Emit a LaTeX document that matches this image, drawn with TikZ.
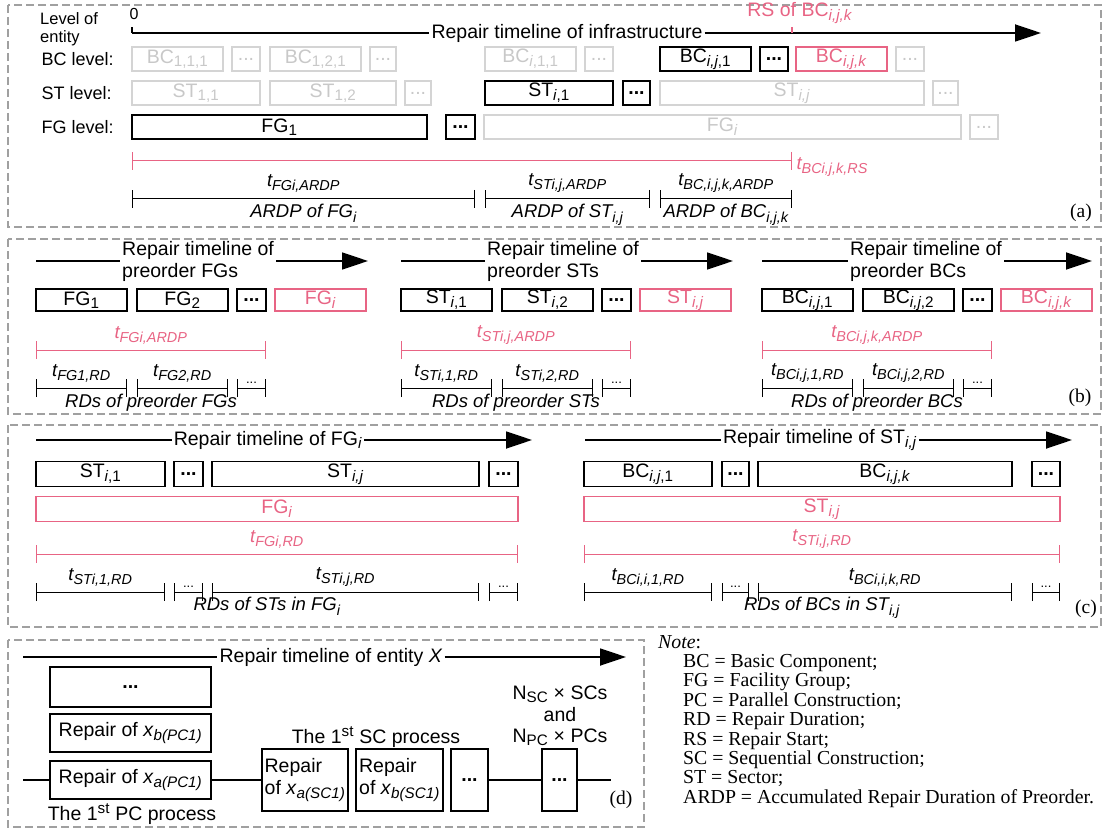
\documentclass[tikz,border=0pt]{standalone}
\usepackage{fontspec}
\setmainfont{Liberation Serif}
\setsansfont{Liberation Sans}
\usetikzlibrary{arrows.meta,positioning,calc}

\definecolor{rspink}{RGB}{232,100,132}
\definecolor{fadeline}{RGB}{212,212,212}
\definecolor{fadetext}{RGB}{200,200,200}
\definecolor{framegray}{RGB}{160,160,160}
\renewcommand{\defaultscriptratio}{.78}
\newcommand{\lsub}[1]{\textsubscript{#1}}

\begin{document}
\begin{tikzpicture}[x=1pt, y=-1pt,
    font=\sffamily\fontsize{19.5}{22}\selectfont,
    panel/.style={draw=framegray, line width=1.2pt, dash pattern=on 8pt off 4pt},
    blk/.style={draw, line width=1.2pt, inner sep=0pt, outer sep=0pt, minimum height=24},
    faded/.style={blk, draw=fadeline, text=fadetext},
    hot/.style={blk, draw=rspink, text=rspink},
    bbox/.style={minimum height=22},
    cbox/.style={minimum height=25},
    timeline/.style={line width=1.8pt},
    tip/.style={-{Triangle[length=26pt,width=17pt]}},
    dim/.style={line width=1pt, {Bar[width=18pt]}-{Bar[width=18pt]}},
    pinkdim/.style={dim, draw=rspink},
    tlab/.style={font=\sffamily\itshape\fontsize{18.5}{20}\selectfont, inner sep=1pt},
    smalldots/.style={above=3pt, font=\sffamily\fontsize{13}{14}\selectfont, inner sep=1pt},
    lvl/.style={anchor=west, font=\sffamily\fontsize{18}{19}\selectfont},
    paneltag/.style={font=\rmfamily\fontsize{19.5}{21}\selectfont}
]
\useasboundingbox (0,0) rectangle (1108,829);

% ---------------- (a) ----------------
\draw[panel] (8,5) rectangle (1101,227);
\node[lvl, align=left, inner sep=0pt, font=\sffamily\fontsize{16.5}{18.5}\selectfont] (lvlof) at (40,29) {Level of\\entity};
\node[lvl] (bclvl) at (38,59) {BC level:};
\node[lvl] (stlvl) at (38,93) {ST level:};
\node[lvl] (fglvl) at (38,127) {FG level:};

\coordinate (a0) at (132,33);
\coordinate (a1) at (1041,33);
\node[font=\sffamily\fontsize{16}{18}\selectfont] (zero) at (134,14) {0};
\node[inner sep=2pt] (atxt) at (567,33) {Repair timeline of infrastructure};
\draw[timeline] (a0) -- (atxt);
\draw[timeline, tip] (atxt) -- (a1);
\draw[line width=1.2pt] (a0) -- ++(0,-6);
\coordinate (rsmark) at (792,33);
\node[text=rspink] (rslab) at (800,13) {RS of BC\lsub{\textit{i,j,k}}};
\draw[rspink, line width=1.2pt] (rsmark) -- ++(0,-6);

% BC level
\node[faded, minimum width=91] (bc111) at (177.5,59) {BC\lsub{1,1,1}};
\node[faded, minimum width=28] (bcd1) at (246,59) {...};
\node[faded, minimum width=91] (bc121) at (315.5,59) {BC\lsub{1,2,1}};
\node[faded, minimum width=26] (bcd2) at (383,59) {...};
\node[faded, minimum width=91] (bci11) at (530.5,59) {BC\lsub{\textit{i},1,1}};
\node[faded, minimum width=28] (bcd3) at (599,59) {...};
\node[blk, minimum width=91] (bcij1) at (705.5,59) {BC\lsub{\textit{i,j},1}};
\node[blk, minimum width=28] (bcd4) at (774,59) {\textbf{...}};
\node[hot, minimum width=91] (bcijk) at (841.5,59) {BC\lsub{\textit{i,j,k}}};
\node[faded, minimum width=28] (bcd5) at (910,59) {...};

% ST level
\node[faded, minimum width=128] (st11) at (196,93) {ST\lsub{1,1}};
\node[faded, minimum width=126] (st12) at (333,93) {ST\lsub{1,2}};
\node[faded, minimum width=26] (std1) at (418,93) {...};
\node[blk, minimum width=128] (sti1) at (549,93) {ST\lsub{\textit{i},1}};
\node[blk, minimum width=27] (std2) at (636.5,93) {\textbf{...}};
\node[faded, minimum width=264] (stij) at (792,93) {ST\lsub{\textit{i,j}}};
\node[faded, minimum width=25] (std3) at (945.5,93) {...};

% FG level
\node[blk, minimum width=295] (fg1) at (279.5,127) {FG\lsub{1}};
\node[blk, minimum width=29] (fgd1) at (460.5,127) {\textbf{...}};
\node[faded, minimum width=477] (fgi) at (722.5,127) {FG\lsub{\textit{i}}};
\node[faded, minimum width=28] (fgd2) at (984,127) {...};

\coordinate (yRS) at (0,161);
\coordinate (yAR) at (0,199);
\draw[pinkdim] (fg1.west |- yRS) -- (rsmark |- yRS)
    node[tlab, text=rspink, anchor=west, xshift=3pt, yshift=-6pt] {t\lsub{BCi,j,k,RS}};
\draw[dim] (fg1.west |- yAR) -- node[tlab, above=5pt] {t\lsub{FGi,ARDP}}
    node[tlab, below=4pt] {ARDP of FG\lsub{i}} (fgd1.east |- yAR);
\draw[dim] (sti1.west |- yAR) -- node[tlab, above=5pt] {t\lsub{STi,j,ARDP}}
    node[tlab, below=4pt] {ARDP of ST\lsub{i,j}} (std2.east |- yAR);
\draw[dim] (bcij1.west |- yAR) -- node[tlab, above=5pt] {t\lsub{BC,i,j,k,ARDP}}
    node[tlab, below=4pt] {ARDP of BC\lsub{i,j,k}} (rsmark |- yAR);
\node[paneltag] (taga) at (1081,213) {(a)};

% ---------------- (b) ----------------
\draw[panel] (8,239) rectangle (1101,414);
\coordinate (yPb) at (0,350);
\coordinate (yDb) at (0,388);

% preorder FGs
\coordinate (bfs) at (36,261);
\coordinate (bfe) at (368,261);
\node[anchor=west, align=left, inner sep=2pt, font=\sffamily\fontsize{19.5}{22}\selectfont] (bftxt) at (120,261) {Repair timeline of\\preorder FGs};
\draw[timeline] (bfs) -- (bftxt);
\draw[timeline, tip] (bftxt) -- (bfe);
\node[blk, bbox, minimum width=91] (bfg1) at (81.5,300) {FG\lsub{1}};
\node[blk, bbox, minimum width=91] (bfg2) at (182.5,300) {FG\lsub{2}};
\node[blk, bbox, minimum width=29] (bfgd) at (251.5,300) {\textbf{...}};
\node[hot, bbox, minimum width=91] (bfgi) at (320.5,300) {FG\lsub{\textit{i}}};
\draw[pinkdim] (bfg1.west |- yPb) -- node[tlab, above=4pt, text=rspink] {t\lsub{FGi,ARDP}} (bfgd.east |- yPb);
\draw[dim] (bfg1.west |- yDb) -- node[tlab, above=4pt] {t\lsub{FG1,RD}} (bfg1.east |- yDb);
\draw[dim] (bfg2.west |- yDb) -- node[tlab, above=4pt] {t\lsub{FG2,RD}} (bfg2.east |- yDb);
\draw[dim] (bfgd.west |- yDb) -- node[smalldots] {...} (bfgd.east |- yDb);
\path (bfg1.west |- yDb) -- node[tlab, below=5pt] {RDs of preorder FGs} (bfgd.east |- yDb);

% preorder STs
\coordinate (bss) at (401,261);
\coordinate (bse) at (733,261);
\node[anchor=west, align=left, inner sep=2pt, font=\sffamily\fontsize{19.5}{22}\selectfont] (bstxt) at (485,261) {Repair timeline of\\preorder STs};
\draw[timeline] (bss) -- (bstxt);
\draw[timeline, tip] (bstxt) -- (bse);
\node[blk, bbox, minimum width=91] (bst1) at (446.5,300) {ST\lsub{\textit{i},1}};
\node[blk, bbox, minimum width=91] (bst2) at (547.5,300) {ST\lsub{\textit{i},2}};
\node[blk, bbox, minimum width=29] (bstd) at (616.5,300) {\textbf{...}};
\node[hot, bbox, minimum width=91] (bstj) at (685.5,300) {ST\lsub{\textit{i,j}}};
\draw[pinkdim] (bst1.west |- yPb) -- node[tlab, above=4pt, text=rspink] {t\lsub{STi,j,ARDP}} (bstd.east |- yPb);
\draw[dim] (bst1.west |- yDb) -- node[tlab, above=4pt] {t\lsub{STi,1,RD}} (bst1.east |- yDb);
\draw[dim] (bst2.west |- yDb) -- node[tlab, above=4pt] {t\lsub{STi,2,RD}} (bst2.east |- yDb);
\draw[dim] (bstd.west |- yDb) -- node[smalldots] {...} (bstd.east |- yDb);
\path (bst1.west |- yDb) -- node[tlab, below=5pt] {RDs of preorder STs} (bstd.east |- yDb);

% preorder BCs
\coordinate (bbs) at (762,261);
\coordinate (bbe) at (1092,261);
\node[anchor=west, align=left, inner sep=2pt, font=\sffamily\fontsize{19.5}{22}\selectfont] (bbtxt) at (848,261) {Repair timeline of\\preorder BCs};
\draw[timeline] (bbs) -- (bbtxt);
\draw[timeline, tip] (bbtxt) -- (bbe);
\node[blk, bbox, minimum width=91] (bbc1) at (807.5,300) {BC\lsub{\textit{i,j},1}};
\node[blk, bbox, minimum width=91] (bbc2) at (908.5,300) {BC\lsub{\textit{i,j},2}};
\node[blk, bbox, minimum width=29] (bbcd) at (977.5,300) {\textbf{...}};
\node[hot, bbox, minimum width=91] (bbck) at (1046.5,300) {BC\lsub{\textit{i,j,k}}};
\draw[pinkdim] (bbc1.west |- yPb) -- node[tlab, above=4pt, text=rspink] {t\lsub{BCi,j,k,ARDP}} (bbcd.east |- yPb);
\draw[dim] (bbc1.west |- yDb) -- node[tlab, above=4pt] {t\lsub{BCi,j,1,RD}} (bbc1.east |- yDb);
\draw[dim] (bbc2.west |- yDb) -- node[tlab, above=4pt] {t\lsub{BCi,j,2,RD}} (bbc2.east |- yDb);
\draw[dim] (bbcd.west |- yDb) -- node[smalldots] {...} (bbcd.east |- yDb);
\path (bbc1.west |- yDb) -- node[tlab, below=5pt] {RDs of preorder BCs} (bbcd.east |- yDb);
\node[paneltag] (tagb) at (1080,398) {(b)};

% ---------------- (c) ----------------
\draw[panel] (8,425) rectangle (1101,627);
\coordinate (yPc) at (0,554);
\coordinate (yDc) at (0,592);

% inside FG_i
\coordinate (cfs) at (36,440);
\coordinate (cfe) at (532,440);
\node[inner sep=2pt] (cftxt) at (268,440) {Repair timeline of FG\lsub{\textit{i}}};
\draw[timeline] (cfs) -- (cftxt);
\draw[timeline, tip] (cftxt) -- (cfe);
\node[blk, cbox, minimum width=129] (cst1) at (100.5,474) {ST\lsub{\textit{i},1}};
\node[blk, cbox, minimum width=29] (cstd1) at (188.5,474) {\textbf{...}};
\node[blk, cbox, minimum width=267] (cstj) at (345.5,474) {ST\lsub{\textit{i,j}}};
\node[blk, cbox, minimum width=29] (cstd2) at (503.5,474) {\textbf{...}};
\node[hot, cbox, minimum width=482] (cfgi) at (277,509) {FG\lsub{\textit{i}}};
\draw[pinkdim] (cst1.west |- yPc) -- node[tlab, above=4pt, text=rspink] {t\lsub{FGi,RD}} (cstd2.east |- yPc);
\draw[dim] (cst1.west |- yDc) -- node[tlab, above=4pt] {t\lsub{STi,1,RD}} (cst1.east |- yDc);
\draw[dim] (cstd1.west |- yDc) -- node[smalldots] {...} (cstd1.east |- yDc);
\draw[dim] (cstj.west |- yDc) -- node[tlab, above=4pt] {t\lsub{STi,j,RD}} (cstj.east |- yDc);
\draw[dim] (cstd2.west |- yDc) -- node[smalldots] {...} (cstd2.east |- yDc);
\path (cst1.west |- yDc) -- node[tlab, below=4pt, xshift=-10pt] {RDs of STs in FG\lsub{i}} (cstd2.east |- yDc);

% inside ST_{i,j}
\coordinate (css) at (585,440);
\coordinate (cse) at (1072,440);
\node[inner sep=2pt] (cstxt) at (820,440) {Repair timeline of ST\lsub{\textit{i,j}}};
\draw[timeline] (css) -- (cstxt);
\draw[timeline, tip] (cstxt) -- (cse);
\node[blk, cbox, minimum width=128] (cbc1) at (648,474) {BC\lsub{\textit{i,j},1}};
\node[blk, cbox, minimum width=27] (cbcd1) at (735.5,474) {\textbf{...}};
\node[blk, cbox, minimum width=254] (cbck) at (885,474) {BC\lsub{\textit{i,j,k}}};
\node[blk, cbox, minimum width=28] (cbcd2) at (1046,474) {\textbf{...}};
\node[hot, cbox, minimum width=476] (cstij) at (822,509) {ST\lsub{\textit{i,j}}};
\draw[pinkdim] (cbc1.west |- yPc) -- node[tlab, above=4pt, text=rspink] {t\lsub{STi,j,RD}} (cbcd2.east |- yPc);
\draw[dim] (cbc1.west |- yDc) -- node[tlab, above=4pt] {t\lsub{BCi,i,1,RD}} (cbc1.east |- yDc);
\draw[dim] (cbcd1.west |- yDc) -- node[smalldots] {...} (cbcd1.east |- yDc);
\draw[dim] (cbck.west |- yDc) -- node[tlab, above=4pt] {t\lsub{BCi,i,k,RD}} (cbck.east |- yDc);
\draw[dim] (cbcd2.west |- yDc) -- node[smalldots] {...} (cbcd2.east |- yDc);
\path (cbc1.west |- yDc) -- node[tlab, below=4pt] {RDs of BCs in ST\lsub{i,j}} (cbcd2.east |- yDc);
\node[paneltag] (tagc) at (1086,609) {(c)};

% ---------------- (d) ----------------
\draw[panel] (8,640) rectangle (644,827);
\coordinate (dxs) at (23,657);
\coordinate (dxe) at (626,657);
\node[inner sep=2pt] (dtxt) at (331,657) {Repair timeline of entity \textit{X}};
\draw[timeline] (dxs) -- (dtxt);
\draw[timeline, tip] (dtxt) -- (dxe);

\node[blk, minimum width=161, minimum height=40] (pcdots) at (130.5,687) {\textbf{...}};
\node[blk, minimum width=161, minimum height=38] (pcb) at (130.5,733) {Repair of \textit{x}\lsub{\textit{b(PC1)}}};
\node[blk, minimum width=161, minimum height=38] (pca) at (130.5,780) {Repair of \textit{x}\lsub{\textit{a(PC1)}}};
\node[blk, minimum width=86, minimum height=62, align=left] (sca) at (305,780) {Repair\\of \textit{x}\lsub{\textit{a(SC1)}}};
\node[blk, minimum width=87, minimum height=62, align=left] (scb) at (399.5,780) {Repair\\of \textit{x}\lsub{\textit{b(SC1)}}};
\node[blk, minimum width=37, minimum height=62] (scd) at (469.5,780) {\textbf{...}};
\node[blk, minimum width=35, minimum height=62] (nxd) at (559.5,780) {\textbf{...}};
\coordinate (dls) at (23,780);
\coordinate (dle) at (611,780);
\draw[timeline] (dls) -- (pca);
\draw[timeline] (pca) -- (sca);
\draw[timeline] (scd) -- (nxd);
\draw[timeline] (nxd) -- (dle);

\node (sclab) at (376,737) {The 1\textsuperscript{st} SC process};
\node (pclab) at (132,814) {The 1\textsuperscript{st} PC process};
\node[align=center, font=\sffamily\fontsize{19.5}{21.5}\selectfont] (nlab) at (560,716) {N\lsub{SC} × SCs\\and\\N\lsub{PC} × PCs};
\node[paneltag] (tagd) at (621,800) {(d)};

% ---------------- note ----------------
\node[anchor=north west, align=left, inner sep=0pt, font=\rmfamily\fontsize{19.8}{19.4}\selectfont] (note) at (658,635) {%
\textit{Note}:\\
\hspace*{25pt}BC = Basic Component;\\
\hspace*{25pt}FG = Facility Group;\\
\hspace*{25pt}PC = Parallel Construction;\\
\hspace*{25pt}RD = Repair Duration;\\
\hspace*{25pt}RS = Repair Start;\\
\hspace*{25pt}SC = Sequential Construction;\\
\hspace*{25pt}ST = Sector;\\
\hspace*{25pt}ARDP = Accumulated Repair Duration of Preorder.};

\end{tikzpicture}
\end{document}
